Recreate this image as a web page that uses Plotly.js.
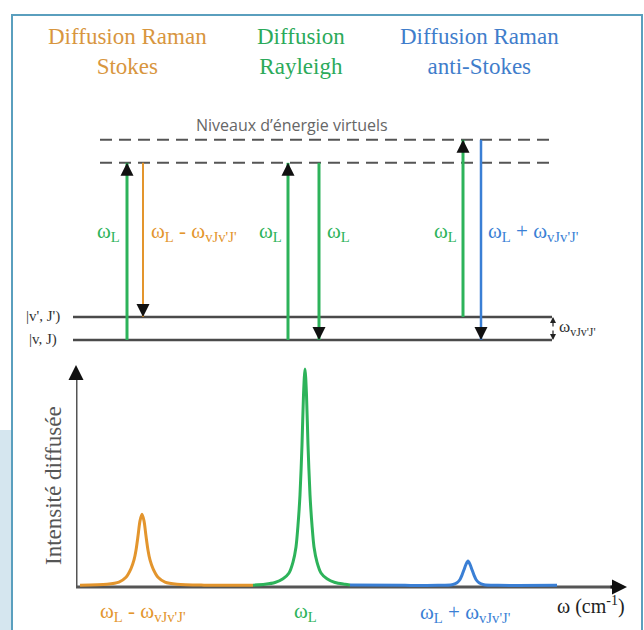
<!DOCTYPE html>
<html>
<head>
<meta charset="utf-8">
<script src="https://cdn.plot.ly/plotly-3.0.1.min.js"></script>
<style>html,body{margin:0;padding:0;background:#fff;}#chart{width:644px;height:630px;}</style>
</head>
<body>
<div id="chart"></div>
<script>
// ---------- DATA ----------
// Spectrum (ω relative to laser line ωL, intensity in arbitrary units)
const stokesX = [-225, -198, -186, -179, -174, -171, -169, -167, -165, -163, -161, -159, -157, -155, -152, -147, -140, -128, -101, -52];
const stokesY = [0.3, 0.8, 1.8, 4, 8, 12, 16.5, 23, 30, 33, 30, 23, 16.5, 12, 8, 4, 1.8, 0.8, 0.4, 0.4];
const rayleighX = [-52, -40, -30, -22, -16, -12, -9, -7, -5, -3, -1.5, 0, 1.5, 3, 5, 7, 9, 12, 16, 22, 30, 40, 45];
const rayleighY = [0.4, 0.8, 1.6, 3.3, 6, 11, 18, 28, 42, 65, 88, 100, 88, 65, 42, 28, 18, 11, 6, 3.3, 1.6, 0.8, 0.5];
const antiStokesX = [45, 100, 133, 147, 152, 155, 157, 159, 161, 163, 165, 167, 169, 171, 174, 179, 193, 252];
const antiStokesY = [0.5, 0.3, 0.3, 0.6, 1.5, 3, 5, 7.5, 10, 11.5, 10, 7.5, 5, 3, 1.5, 0.6, 0.3, 0.3];

// Energy-level diagram
const levelNames = ["|v, J)", "|v', J')"];
const levelEnergy = [0, 1];
const virtualEnergy = [7.7, 8.7];
const transitionX = [-178, -162, -17, 14, 158, 176];
const transitionFrom = [0, 7.7, 0, 7.7, 1, 8.7];
const transitionTo = [7.7, 1, 7.7, 0, 8.7, 0];
const transitionKind = ["laser", "stokes", "laser", "laser", "laser", "anti"];

const titles = [["Diffusion Raman", "Stokes"], ["Diffusion", "Rayleigh"], ["Diffusion Raman", "anti-Stokes"]];

// ---------- STYLE ----------
const ORANGE = '#E3952D', ORANGE_T = '#D8963E';
const GREEN = '#2DB35A', GREEN_T = '#2BAA5A';
const BLUE = '#3A7FD5', BLUE_T = '#3F7DCB';
const kindColor = {laser: GREEN, stokes: ORANGE, anti: BLUE};
const kindWidth = {laser: 3, stokes: 2, anti: 2.5};
const SERIF = 'Liberation Serif';
const SANS = 'Open Sans';
const WL = 'ω<sub>L</sub>';
const WV = "ω<sub>vJv'J'</sub>";

const traces = [];
// --- top diagram (x2/y2) ---
levelEnergy.forEach(e => traces.push({x: [-232, 247], y: [e, e], xaxis: 'x2', yaxis: 'y2', mode: 'lines',
  line: {color: '#4a4a4a', width: 2.5}, hoverinfo: 'skip', showlegend: false}));
virtualEnergy.forEach(e => traces.push({x: [-205, 245], y: [e, e], xaxis: 'x2', yaxis: 'y2', mode: 'lines',
  line: {color: '#555', width: 2, dash: '12px,7px'}, hoverinfo: 'skip', showlegend: false}));
transitionX.forEach((x, i) => traces.push({x: [x, x], y: [transitionFrom[i], transitionTo[i]], xaxis: 'x2', yaxis: 'y2',
  mode: 'lines', line: {color: kindColor[transitionKind[i]], width: kindWidth[transitionKind[i]]}, hoverinfo: 'skip', showlegend: false}));

// --- bottom spectrum axes shafts ---
traces.push({x: [-229, -229], y: [-0.5, 99], mode: 'lines', line: {color: '#555', width: 3}, hoverinfo: 'skip', showlegend: false});
traces.push({x: [-229, 316], y: [-0.5, -0.5], mode: 'lines', line: {color: '#555', width: 3}, hoverinfo: 'skip', showlegend: false});
// --- spectrum ---
[[stokesX, stokesY, ORANGE], [rayleighX, rayleighY, GREEN], [antiStokesX, antiStokesY, BLUE]].forEach(s =>
  traces.push({x: s[0], y: s[1], mode: 'lines', line: {color: s[2], width: 3, shape: 'spline', smoothing: 0.8},
    hoverinfo: 'skip', showlegend: false}));

const ann = [];
function A(o) { ann.push(Object.assign({showarrow: false, xanchor: 'center', yanchor: 'middle'}, o)); }
// arrow heads on transitions
transitionX.forEach((x, i) => {
  const up = transitionTo[i] > transitionFrom[i];
  A({x: x, y: transitionTo[i], xref: 'x2', yref: 'y2', ax: 0, ay: up ? 13 : -13, text: '', showarrow: true,
    arrowhead: 2, arrowsize: 1.3, arrowwidth: 2, arrowcolor: '#111', standoff: 0});
});
// bracket between levels
A({x: 248, y: 1, xref: 'x2', yref: 'y2', ax: 0, ay: 11, text: '', showarrow: true, arrowhead: 2, arrowsize: 1, arrowwidth: 1.2, arrowcolor: '#222', standoff: 0});
A({x: 248, y: 0, xref: 'x2', yref: 'y2', ax: 0, ay: -11, text: '', showarrow: true, arrowhead: 2, arrowsize: 1, arrowwidth: 1.2, arrowcolor: '#222', standoff: 0});
A({x: 252, y: 0.5, xref: 'x2', yref: 'y2', text: WV, xanchor: 'left', font: {family: SERIF, size: 17, color: '#333'}});
// level names
levelNames.forEach((n, i) => A({x: -262, y: levelEnergy[i], xref: 'x2', yref: 'y2', text: n,
  font: {family: SERIF, size: 15, color: '#333'}}));
A({x: -13, y: 9.35, xref: 'x2', yref: 'y2', text: "Niveaux d’énergie virtuels",
  font: {family: SANS, size: 16, color: '#666'}});
// transition labels
const tl = [[-197, WL, GREEN, 'center'], [-156, WL + ' - ' + WV, ORANGE, 'left'], [-35, WL, GREEN, 'center'],
  [33, WL, GREEN, 'center'], [140, WL, GREEN, 'center'], [181, WL + ' + ' + WV, BLUE, 'left']];
tl.forEach(t => A({x: t[0], y: 4.7, xref: 'x2', yref: 'y2', text: t[1], xanchor: t[3],
  font: {family: SERIF, size: 21, color: t[2]}}));
// titles
[[128, ORANGE_T], [301, GREEN_T], [479, BLUE_T]].forEach((p, i) => A({x: p[0] / 644, y: 1 - 51.5 / 630,
  xref: 'paper', yref: 'paper', text: titles[i].join('<br>'), align: 'center',
  font: {family: SERIF, size: 23, color: p[1]}}));
// spectrum axis arrow heads
A({x: -229, y: 101.8, xref: 'x', yref: 'y', ax: 0, ay: 16, text: '', showarrow: true, arrowhead: 2, arrowsize: 1, arrowwidth: 3, arrowcolor: '#111', standoff: 0});
A({x: 322, y: -0.5, xref: 'x', yref: 'y', ax: -18, ay: 0, text: '', showarrow: true, arrowhead: 2, arrowsize: 1, arrowwidth: 3, arrowcolor: '#111', standoff: 0});
// spectrum labels
A({x: -162, y: 1 - 612 / 630, xref: 'x', yref: 'paper', text: WL + ' - ' + WV, font: {family: SERIF, size: 21, color: ORANGE}});
A({x: 0, y: 1 - 612 / 630, xref: 'x', yref: 'paper', text: WL, font: {family: SERIF, size: 21, color: GREEN}});
A({x: 160, y: 1 - 613 / 630, xref: 'x', yref: 'paper', text: WL + ' + ' + WV, font: {family: SERIF, size: 21, color: BLUE}});
A({x: 286, y: 1 - 605 / 630, xref: 'x', yref: 'paper', text: 'ω (cm<sup>-1</sup>)', font: {family: SERIF, size: 20, color: '#222'}});
A({x: 53 / 644, y: 1 - 486 / 630, xref: 'paper', yref: 'paper', text: 'Intensité diffusée', textangle: -90,
  font: {family: SERIF, size: 23, color: '#555'}});

const hidden = {visible: false, fixedrange: true};
const layout = {
  width: 644, height: 630, autosize: false,
  margin: {l: 0, r: 0, t: 0, b: 0},
  paper_bgcolor: '#fff', plot_bgcolor: 'rgba(0,0,0,0)',
  showlegend: false,
  xaxis: Object.assign({domain: [76 / 644, 627 / 644], range: [-229, 322]}, hidden),
  yaxis: Object.assign({domain: [1 - 600 / 630, 1 - 360 / 630], range: [-6.45, 104.1]}, hidden),
  xaxis2: Object.assign({domain: [0, 1], range: [-305, 339], anchor: 'y2'}, hidden),
  yaxis2: Object.assign({domain: [0, 1], range: [-12.61, 14.78], anchor: 'x2'}, hidden),
  shapes: [
    {type: 'rect', xref: 'paper', yref: 'paper', x0: 0, x1: 11 / 644, y0: -0.05, y1: 1 - 430 / 630, fillcolor: '#d5e6ef', line: {width: 0}, layer: 'below'},
    {type: 'rect', xref: 'paper', yref: 'paper', x0: 12 / 644, x1: 642 / 644, y0: -0.05, y1: 1 - 15 / 630, fillcolor: 'rgba(0,0,0,0)', line: {color: '#5a9fbe', width: 2}}
  ],
  annotations: ann
};
Plotly.newPlot('chart', traces, layout, {staticPlot: true, displayModeBar: false});
</script>
</body>
</html>
